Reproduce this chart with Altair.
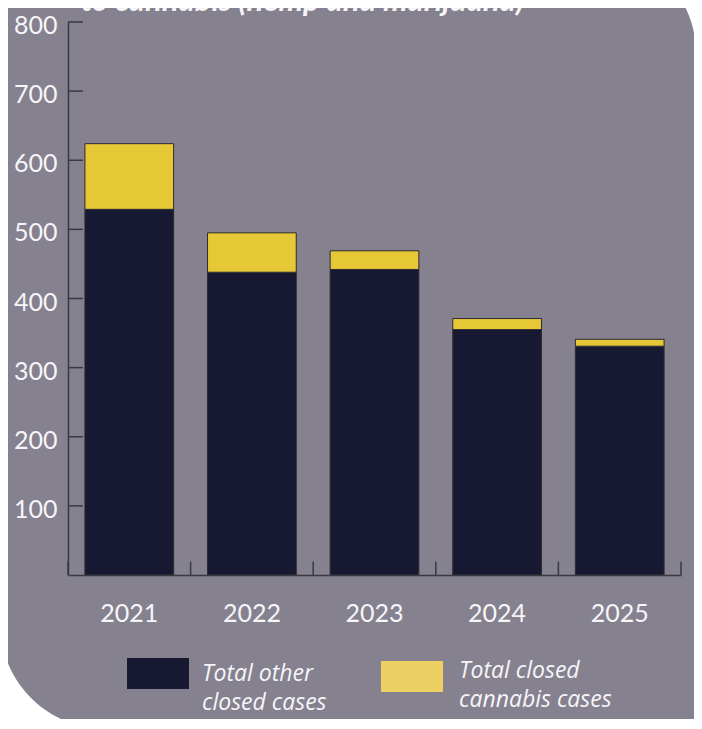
import altair as alt
import pandas as pd

# ---- data ----
years = ["2021", "2022", "2023", "2024", "2025"]
other_cases = [529, 438, 442, 355, 331]
cannabis_cases = [95, 57, 27, 16, 10]
series = ["Total other closed cases", "Total closed cannabis cases"]
series_labels = ["Total other\nclosed cases", "Total closed\ncannabis cases"]
y_tick_values = [100, 200, 300, 400, 500, 600, 700, 800]
band_edges = [0, 1, 2, 3, 4, 5]
title_text = "to cannabis (hemp and marijuana)"

rows = []
for i, yr in enumerate(years):
    rows.append({"year": yr, "series": series[0], "value": other_cases[i], "order": 0})
    rows.append({"year": yr, "series": series[1], "value": cannabis_cases[i], "order": 1})
df = pd.DataFrame(rows)

W, H = 613, 553
GREY = "#85818F"
NAVY = "#171832"
YELLOW = "#E6C837"
LEG_YELLOW = "#ECD064"
AXIS = "#3a3842"
TXT = "#F6F5F8"
FONT = "Lato"
LEG_FONT = "Open Sans"

one = pd.DataFrame({"k": [0]})

y_axis = alt.Axis(title=None, values=y_tick_values, ticks=False, tickSize=0, grid=False,
                  labelPadding=11, labelBaseline="alphabetic", labelOffset=11.5,
                  labelFontSize=25, labelColor=TXT, labelFont=FONT,
                  domainColor=AXIS, domainWidth=1.5, zindex=1, labelFlush=False)
y_scale = alt.Scale(domain=[0, 800], nice=False)

bg = alt.Chart(one).mark_rect(
    color=GREY, cornerRadiusTopRight=103, cornerRadiusBottomLeft=106
).encode(x=alt.value(-68), x2=alt.value(628), y=alt.value(-72), y2=alt.value(707))

bars = alt.Chart(df).mark_bar(stroke="#2c2b33", strokeWidth=1).encode(
    x=alt.X(
        "year:N", sort=years,
        scale=alt.Scale(paddingInner=0.2765, paddingOuter=0.138),
        axis=alt.Axis(title=None, labelAngle=0, ticks=False, tickSize=0, labelPadding=46,
                      labelBaseline="alphabetic", labelFontSize=25, labelColor=TXT,
                      labelFont=FONT, domainColor=AXIS, domainWidth=1.5, zindex=1,
                      labelFlush=False),
    ),
    y=alt.Y("value:Q", stack="zero", scale=y_scale, axis=y_axis),
    color=alt.Color("series:N", scale=alt.Scale(domain=series, range=[NAVY, YELLOW]), legend=None),
    order=alt.Order("order:Q"),
)

yticks = alt.Chart(pd.DataFrame({"value": y_tick_values})).mark_rule(
    color=AXIS, strokeWidth=1.5
).encode(y=alt.Y("value:Q", scale=y_scale, axis=y_axis), x=alt.value(0), x2=alt.value(15))

xticks = alt.Chart(pd.DataFrame({"b": band_edges})).mark_rule(
    color=AXIS, strokeWidth=1.5
).encode(
    x=alt.X("b:Q", scale=alt.Scale(domain=[0, 5], nice=False, zero=False), axis=None),
    y=alt.value(H - 13.5), y2=alt.value(H),
)

title = alt.Chart(pd.DataFrame({"t": [title_text]})).mark_text(
    align="left", baseline="alphabetic", font=FONT, fontSize=31, fontStyle="italic",
    fontWeight="bold", color=TXT
).encode(text="t:N", x=alt.value(13), y=alt.value(-11))

leg_rect1 = alt.Chart(pd.DataFrame({"s": [series[0]]})).mark_rect(color=NAVY).encode(
    x=alt.value(59), x2=alt.value(121), y=alt.value(636), y2=alt.value(667))
leg_rect2 = alt.Chart(pd.DataFrame({"s": [series[1]]})).mark_rect(color=LEG_YELLOW).encode(
    x=alt.value(313), x2=alt.value(375), y=alt.value(639), y2=alt.value(670))

leg_txt1 = alt.Chart(pd.DataFrame({"s": [series_labels[0]]})).mark_text(
    align="left", baseline="top", lineBreak="\n", lineHeight=29, font=LEG_FONT, fontSize=23,
    fontStyle="italic", color=TXT
).encode(text="s:N", x=alt.value(134), y=alt.value(641))
leg_txt2 = alt.Chart(pd.DataFrame({"s": [series_labels[1]]})).mark_text(
    align="left", baseline="top", lineBreak="\n", lineHeight=29, font=LEG_FONT, fontSize=23,
    fontStyle="italic", color=TXT
).encode(text="s:N", x=alt.value(391), y=alt.value(637.5))

chart = alt.layer(
    bg, bars, yticks, xticks, title, leg_rect1, leg_rect2, leg_txt1, leg_txt2
).resolve_scale(x="independent").properties(
    width=W, height=H,
    autosize=alt.AutoSizeParams(type="none"),
    padding={"left": 60, "top": 14, "right": 13, "bottom": 144},
    background="white",
).configure_view(stroke=None)

chart.save("out.html", embed_options={"renderer": "svg", "actions": False})
